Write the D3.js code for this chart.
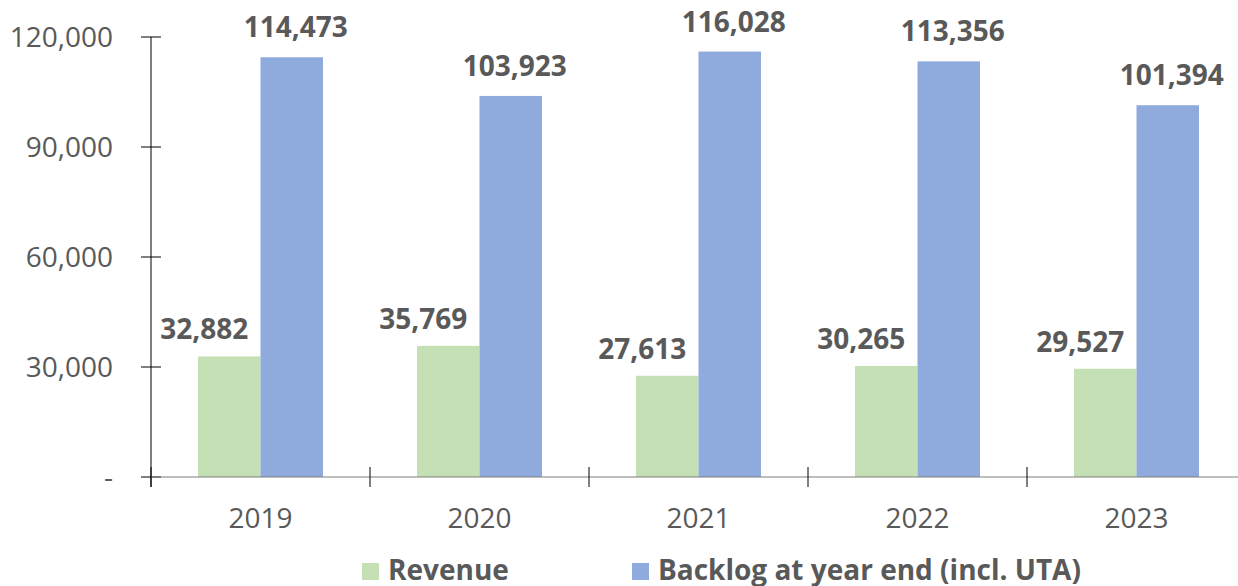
<!DOCTYPE html>
<html>
<head>
<meta charset="utf-8">
<script src="https://cdn.jsdelivr.net/npm/d3@7"></script>
<style>
  html, body { margin: 0; padding: 0; background: #fff; }
  svg { display: block; font-family: "Open Sans", sans-serif; }
</style>
</head>
<body>
<div id="chart"></div>
<script>
// data
const years = ['2019', '2020', '2021', '2022', '2023']
const revenue = [32882, 35769, 27613, 30265, 29527]
const backlog = [114473, 103923, 116028, 113356, 101394]
const seriesNames = ['Revenue', 'Backlog at year end (incl. UTA)']
const yTicks = [0, 30000, 60000, 90000, 120000]

const width = 1238
const height = 586
const colors = ['#c5e0b4', '#8faadc']
const textColor = '#595959'

const svg = d3.select('#chart').append('svg')
  .attr('width', width).attr('height', height)

// scales
const x0 = d3.scaleBand().domain(years).range([151, 1246]).padding(0)
const y = d3.scaleLinear().domain([0, 120000]).range([477, 37])
const barW = 62.5

const rows = years.map((yr, i) => ({ year: yr, vals: [revenue[i], backlog[i]] }))

// y axis
const yAxis = svg.append('g').attr('transform', 'translate(151,0)')
yAxis.append('line').attr('x1', 0).attr('x2', 0).attr('y1', y(120000)).attr('y2', 487)
  .attr('stroke', '#000').attr('stroke-width', 1)
yTicks.forEach(t => {
  yAxis.append('line').attr('x1', -10).attr('x2', 10).attr('y1', y(t)).attr('y2', y(t))
    .attr('stroke', '#000').attr('stroke-width', 1)
  yAxis.append('text')
    .text(t === 0 ? '-' : d3.format(',')(t))
    .attr('x', -38).attr('y', y(t)).attr('dy', '0.36em')
    .attr('text-anchor', 'end')
    .attr('fill', textColor).attr('font-size', 28)
})

// bars
const g = svg.append('g')
rows.forEach(r => {
  const cx = x0(r.year) + x0.bandwidth() / 2
  r.vals.forEach((v, k) => {
    const bx = cx - barW + k * barW
    g.append('rect')
      .attr('x', bx).attr('y', y(v))
      .attr('width', barW).attr('height', y(0) - y(v))
      .attr('fill', colors[k])
    // 数据标签
    g.append('text')
      .text(d3.format(',')(v))
      .attr('x', k === 0 ? bx + barW / 2 - 25 : bx + barW / 2 + 4)
      .attr('y', y(v) - (k === 0 ? 17 : 20))
      .attr('text-anchor', 'middle')
      .attr('fill', textColor).attr('font-size', 28).attr('font-weight', 'bold')
  })
})

// x axis
const xAxis = svg.append('g')
xAxis.append('line').attr('x1', 151).attr('x2', width).attr('y1', 477).attr('y2', 477)
  .attr('stroke', '#7f7f7f').attr('stroke-width', 1.2)
years.forEach(yr => {
  xAxis.append('line').attr('x1', x0(yr)).attr('x2', x0(yr)).attr('y1', 467).attr('y2', 487)
    .attr('stroke', '#000').attr('stroke-width', 1)
  xAxis.append('text').text(yr)
    .attr('x', x0(yr) + x0.bandwidth() / 2).attr('y', 528)
    .attr('text-anchor', 'middle')
    .attr('fill', textColor).attr('font-size', 28)
})

// legend
const legendX = [362, 632]
seriesNames.forEach((name, k) => {
  const lg = svg.append('g').attr('transform', `translate(${legendX[k]},0)`)
  lg.append('rect').attr('x', 0).attr('y', 563).attr('width', 17).attr('height', 17)
    .attr('fill', colors[k])
  lg.append('text').text(name)
    .attr('x', 26).attr('y', 580)
    .attr('fill', textColor).attr('font-size', 28).attr('font-weight', 'bold')
})
</script>
</body>
</html>
